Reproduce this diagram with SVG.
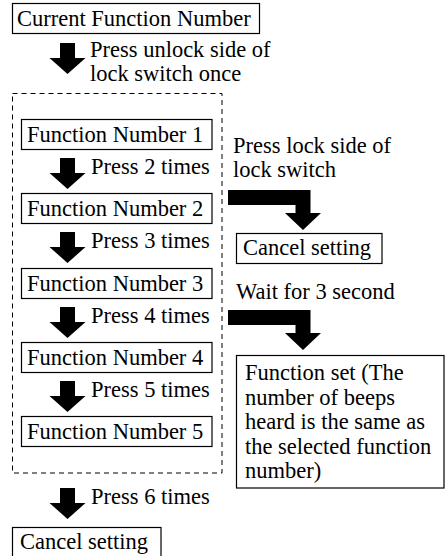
<svg xmlns="http://www.w3.org/2000/svg" width="445" height="556" viewBox="0 0 445 556">
<defs>
  <path id="dn" d="M-7.5,0 H7.5 V15 H18 L0,31 L-18,15 H-7.5 Z" fill="#000"/>
  <path id="ell" d="M0,0 H82.5 V23 H93 L75,40 L57,23 H67.5 V15 H0 Z" fill="#000"/>
</defs>
<g id="group-dashed">
  <rect x="12.5" y="93.5" width="209.5" height="379.5" fill="none" stroke="#000" stroke-width="1" stroke-dasharray="5 4"/>
</g>
<g id="current">
  <rect x="12.5" y="3.5" width="247" height="30" fill="#fff" stroke="#000" stroke-width="1.2"/>
</g>
<g id="fn1">
  <rect x="21.5" y="119.5" width="190.5" height="30" fill="#fff" stroke="#000" stroke-width="1.2"/>
</g>
<g id="fn2">
  <rect x="21.5" y="193.5" width="190.5" height="30" fill="#fff" stroke="#000" stroke-width="1.2"/>
</g>
<g id="fn3">
  <rect x="21.5" y="268.5" width="190.5" height="30" fill="#fff" stroke="#000" stroke-width="1.2"/>
</g>
<g id="fn4">
  <rect x="21.5" y="342.5" width="190.5" height="30" fill="#fff" stroke="#000" stroke-width="1.2"/>
</g>
<g id="fn5">
  <rect x="21.5" y="416.5" width="190.5" height="30" fill="#fff" stroke="#000" stroke-width="1.2"/>
</g>
<g id="cancel-right">
  <rect x="236.5" y="233.5" width="145.5" height="30" fill="#fff" stroke="#000" stroke-width="1.2"/>
</g>
<g id="function-set">
  <rect x="236.5" y="355.5" width="207.5" height="132.5" fill="#fff" stroke="#000" stroke-width="1.2"/>
</g>
<g id="cancel-bottom">
  <rect x="12.5" y="527.5" width="148.5" height="32" fill="#fff" stroke="#000" stroke-width="1.2"/>
</g>
<g id="connectors">
  <use href="#dn" x="67.5" y="43"/>
  <use href="#dn" x="67.5" y="158"/>
  <use href="#dn" x="67.5" y="232"/>
  <use href="#dn" x="67.5" y="307"/>
  <use href="#dn" x="67.5" y="381"/>
  <use href="#dn" x="67.5" y="488"/>
  <use href="#ell" x="228" y="190"/>
  <use href="#ell" x="228" y="310"/>
</g>
<g id="labels">
<text x="17" y="26" font-family="Times New Roman" font-size="22.5">Current Function Number</text>
<text x="27" y="142" font-family="Times New Roman" font-size="22.5">Function Number 1</text>
<text x="27" y="216" font-family="Times New Roman" font-size="22.5">Function Number 2</text>
<text x="27" y="291" font-family="Times New Roman" font-size="22.5">Function Number 3</text>
<text x="27" y="365" font-family="Times New Roman" font-size="22.5">Function Number 4</text>
<text x="27" y="439" font-family="Times New Roman" font-size="22.5">Function Number 5</text>
<text x="243" y="255" font-family="Times New Roman" font-size="22.5">Cancel setting</text>
<text x="245" y="380" font-family="Times New Roman" font-size="22.5">Function set (The</text>
<text x="245" y="404.5" font-family="Times New Roman" font-size="22.5">number of beeps</text>
<text x="245" y="429" font-family="Times New Roman" font-size="22.5">heard is the same as</text>
<text x="245" y="453.5" font-family="Times New Roman" font-size="22.5">the selected function</text>
<text x="245" y="478" font-family="Times New Roman" font-size="22.5">number)</text>
<text x="20" y="549" font-family="Times New Roman" font-size="22.5">Cancel setting</text>
<text x="90" y="57" font-family="Times New Roman" font-size="22.5">Press unlock side of</text>
<text x="90" y="81" font-family="Times New Roman" font-size="22.5">lock switch once</text>
<text x="91" y="174" font-family="Times New Roman" font-size="22.5">Press 2 times</text>
<text x="91" y="248" font-family="Times New Roman" font-size="22.5">Press 3 times</text>
<text x="91" y="323" font-family="Times New Roman" font-size="22.5">Press 4 times</text>
<text x="91" y="397" font-family="Times New Roman" font-size="22.5">Press 5 times</text>
<text x="91" y="504" font-family="Times New Roman" font-size="22.5">Press 6 times</text>
<text x="233" y="153" font-family="Times New Roman" font-size="22.5">Press lock side of</text>
<text x="233" y="177" font-family="Times New Roman" font-size="22.5">lock switch</text>
<text x="236" y="299" font-family="Times New Roman" font-size="22.5">Wait for 3 second</text>
</g>
</svg>
